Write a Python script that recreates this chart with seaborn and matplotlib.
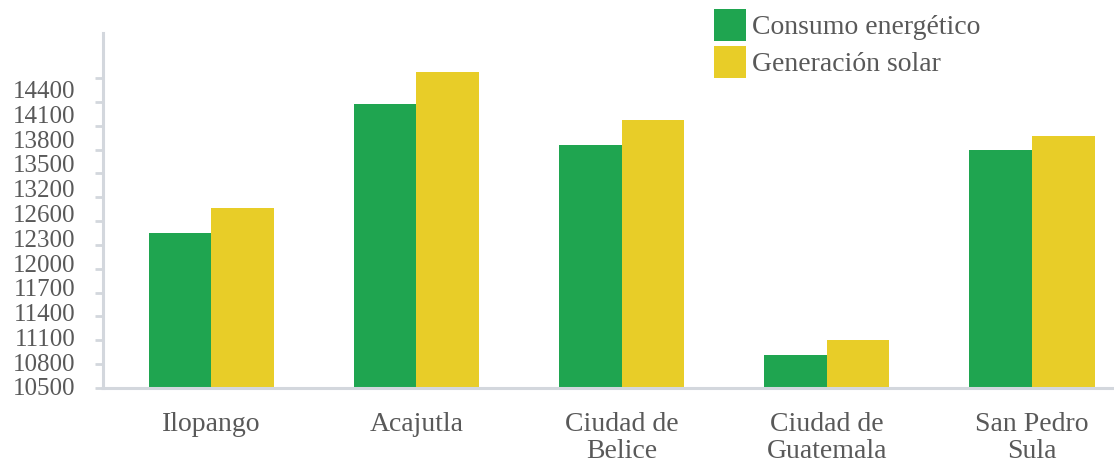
import numpy as np
import pandas as pd
import matplotlib
matplotlib.use("Agg")
import matplotlib.pyplot as plt
import seaborn as sns
from matplotlib.patches import Patch

# ---- data ----
ciudades = ["Ilopango", "Acajutla", "Ciudad de\nBelice", "Ciudad de\nGuatemala", "San Pedro\nSula"]
consumo = [12450, 14075, 13560, 10915, 13495]
generacion = [12765, 14475, 13870, 11105, 13670]
series = ["Consumo energético", "Generación solar"]
ytick_labels = ["10500", "10800", "11100", "11400", "11700", "12000", "12300",
                "12600", "13200", "13500", "13800", "14100", "14400"]
ytick_marks = list(range(10500, 14401, 300))

green = "#1FA550"
yellow = "#E8CD28"
grey_txt = "#595959"
axis_col = "#D3D7DD"

df = pd.DataFrame({
    "ciudad": ciudades * 2,
    "valor": consumo + generacion,
    "serie": [series[0]] * len(ciudades) + [series[1]] * len(ciudades),
})

sns.set_theme(style="white")
plt.rcParams["font.family"] = ["Liberation Serif", "DejaVu Serif"]

fig = plt.figure(figsize=(11.14, 4.63), dpi=100)
ax = fig.add_axes([103 / 1114, 75 / 463, (1114 - 103) / 1114, (388 - 33) / 463])

sns.barplot(data=df, x="ciudad", y="valor", hue="serie", palette=[green, yellow],
            width=0.61, gap=0, saturation=1, ax=ax, legend=False, errorbar=None,
            linewidth=0, edgecolor="none")

ax.set_xlim(-0.527, 4.4)
ax.set_ylim(10500, 14966)
ax.set_xlabel("")
ax.set_ylabel("")

for s in ["top", "right"]:
    ax.spines[s].set_visible(False)
for s in ["left", "bottom"]:
    ax.spines[s].set_color(axis_col)
    ax.spines[s].set_linewidth(2.2)

# y ticks: marks as minor ticks, labels as major ticks without marks
ax.set_yticks(ytick_marks, minor=True)
ax.set_yticks(np.linspace(10513, 14255, len(ytick_labels)))
ax.set_yticklabels(ytick_labels)
ax.tick_params(axis="y", which="minor", length=6, width=2, color=axis_col, left=True)
ax.tick_params(axis="y", which="major", length=0, pad=20, labelsize=18, labelcolor=grey_txt)

ax.tick_params(axis="x", length=0, pad=17, labelsize=20, labelcolor=grey_txt)
for t in ax.get_xticklabels():
    t.set_linespacing(1.15)

handles = [Patch(facecolor=green, edgecolor="none"), Patch(facecolor=yellow, edgecolor="none")]
leg = fig.legend(handles, series, loc="upper left", bbox_to_anchor=(714 / 1114, 1 - 9 / 463),
                 frameon=False, fontsize=20, handlelength=1.15, handleheight=1.42,
                 handletextpad=0.2, labelspacing=0.15, borderpad=0, borderaxespad=0)
for t in leg.get_texts():
    t.set_color(grey_txt)

fig.savefig("out.png", dpi=100)
